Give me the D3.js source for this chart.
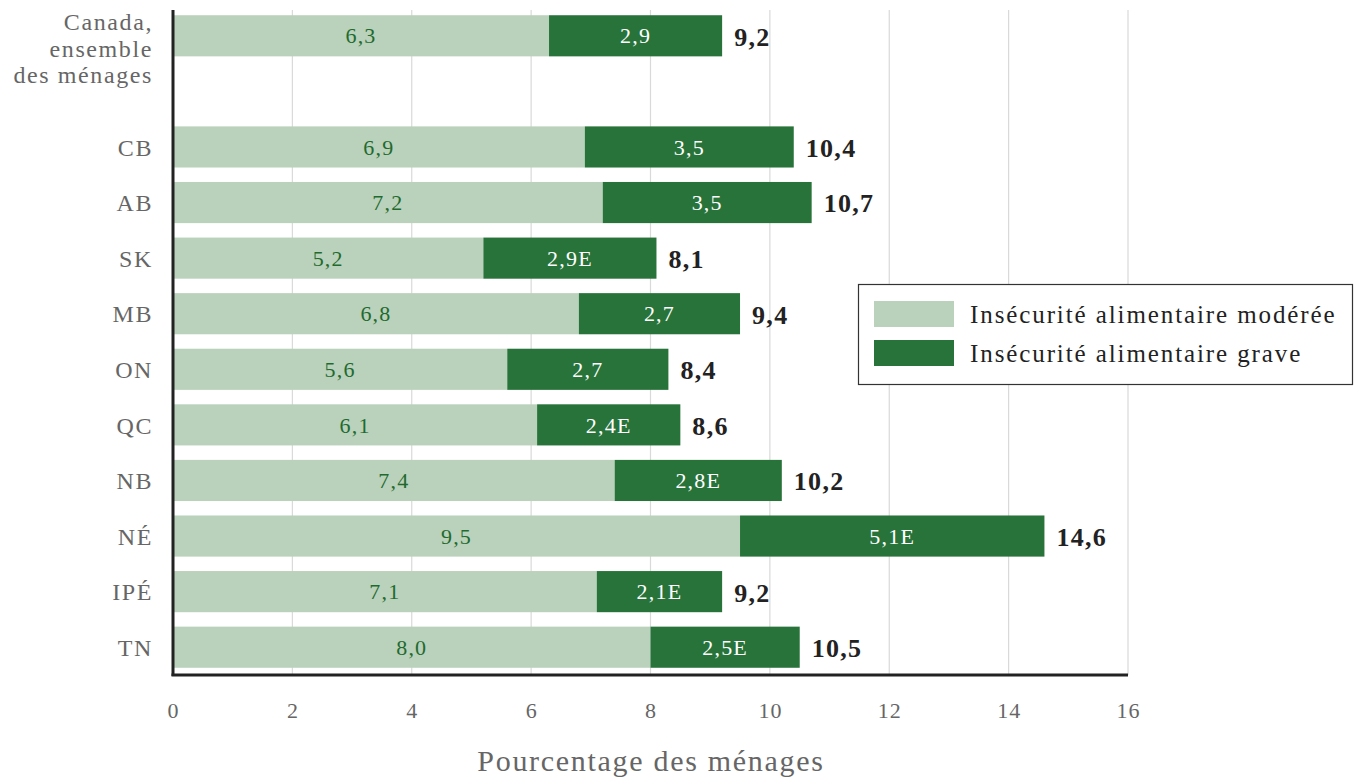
<!DOCTYPE html>
<html><head><meta charset="utf-8">
<script src="https://cdn.jsdelivr.net/npm/d3@7"></script>
<style>body{margin:0;background:#fff}svg{display:block}</style>
</head><body>
<svg id="c" width="1359" height="779"></svg>
<script>
const categories = ["Canada", "_gap", "CB", "AB", "SK", "MB", "ON", "QC", "NB", "NÉ", "IPÉ", "TN"];
const moderate = [6.3, null, 6.9, 7.2, 5.2, 6.8, 5.6, 6.1, 7.4, 9.5, 7.1, 8.0];
const severe = [2.9, null, 3.5, 3.5, 2.9, 2.7, 2.7, 2.4, 2.8, 5.1, 2.1, 2.5];
const severeLabels = ["2,9", "", "3,5", "3,5", "2,9E", "2,7", "2,7", "2,4E", "2,8E", "5,1E", "2,1E", "2,5E"];
const totals = [9.2, null, 10.4, 10.7, 8.1, 9.4, 8.4, 8.6, 10.2, 14.6, 9.2, 10.5];
const xTicks = [0, 2, 4, 6, 8, 10, 12, 14, 16];
const seriesNames = ["Insécurité alimentaire modérée", "Insécurité alimentaire grave"];
const canadaLabel = ["Canada,", "ensemble", "des ménages"];

const font = "'Liberation Serif', 'DejaVu Serif', serif";
const cLight = "#bad1bb", cDark = "#28733a";
const fmt = v => v.toFixed(1).replace(".", ",");

const svg = d3.select("#c");
const x = d3.scaleLinear().domain([0, 16]).range([173, 1128]);
const y = d3.scaleBand().domain(categories).range([8, 675]).paddingInner(0.26).paddingOuter(0.13);

// grid
svg.append("g").selectAll("line").data(xTicks.slice(1)).join("line")
  .attr("x1", d => x(d)).attr("x2", d => x(d)).attr("y1", 10).attr("y2", 675)
  .attr("stroke", "#d9d9d9").attr("stroke-width", 1.2);

const rows = categories.map((c, i) => ({c, m: moderate[i], s: severe[i], sl: severeLabels[i], t: totals[i]})).filter(d => d.m != null);

const g = svg.append("g");
g.selectAll("rect.m").data(rows).join("rect")
  .attr("x", x(0)).attr("y", d => y(d.c)).attr("height", y.bandwidth())
  .attr("width", d => x(d.m) - x(0)).attr("fill", cLight);
g.selectAll("rect.s").data(rows).join("rect")
  .attr("x", d => x(d.m)).attr("y", d => y(d.c)).attr("height", y.bandwidth())
  .attr("width", d => x(d.m + d.s) - x(d.m)).attr("fill", cDark);

g.selectAll("text.m").data(rows).join("text")
  .attr("x", d => (x(0) + x(d.m)) / 2).attr("y", d => y(d.c) + y.bandwidth() / 2)
  .attr("dy", "0.35em").attr("text-anchor", "middle")
  .attr("font-family", font).attr("font-size", 22).attr("letter-spacing", 1.2).attr("fill", "#1f6b2f")
  .text(d => fmt(d.m));
g.selectAll("text.s").data(rows).join("text")
  .attr("x", d => (x(d.m) + x(d.m + d.s)) / 2).attr("y", d => y(d.c) + y.bandwidth() / 2)
  .attr("dy", "0.35em").attr("text-anchor", "middle")
  .attr("font-family", font).attr("font-size", 22).attr("letter-spacing", 1.2).attr("fill", "#ffffff")
  .text(d => d.sl);
g.selectAll("text.t").data(rows).join("text")
  .attr("x", d => x(d.m + d.s) + 12).attr("y", d => y(d.c) + y.bandwidth() / 2)
  .attr("dy", "0.38em").attr("text-anchor", "start")
  .attr("font-family", font).attr("font-size", 26).attr("letter-spacing", 1.3).attr("font-weight", "bold").attr("fill", "#222")
  .text(d => fmt(d.t));

// y labels
const yl = svg.append("g");
yl.selectAll("text").data(rows.filter(d => d.c !== "Canada")).join("text")
  .attr("x", 153).attr("y", d => y(d.c) + y.bandwidth() / 2).attr("dy", "0.36em")
  .attr("text-anchor", "end").attr("font-family", font).attr("font-size", 24).attr("letter-spacing", 1.6).attr("fill", "#666")
  .text(d => d.c);
yl.append("text").attr("text-anchor", "end").attr("font-family", font).attr("font-size", 24).attr("letter-spacing", 1.6).attr("fill", "#666")
  .selectAll("tspan").data(canadaLabel).join("tspan")
  .attr("x", 153).attr("y", (d, i) => 30 + i * 26.5).text(d => d);

// axes lines
svg.append("line").attr("x1", x(0)).attr("x2", x(0)).attr("y1", 10).attr("y2", 676)
  .attr("stroke", "#222").attr("stroke-width", 3);
svg.append("line").attr("x1", x(0) - 1.5).attr("x2", x(16)).attr("y1", 675).attr("y2", 675)
  .attr("stroke", "#222").attr("stroke-width", 3);

// x axis ticks
const xa = svg.append("g").attr("transform", "translate(0,676)")
  .call(d3.axisBottom(x).tickValues(xTicks).tickSize(0).tickPadding(26).tickFormat(d => d));
xa.select(".domain").remove();
xa.selectAll("text").attr("font-family", font).attr("font-size", 22).attr("letter-spacing", 1).attr("fill", "#666");

svg.append("text").attr("x", 651).attr("y", 771).attr("text-anchor", "middle")
  .attr("font-family", font).attr("font-size", 30).attr("fill", "#666").attr("letter-spacing", 1.7)
  .text("Pourcentage des ménages");

// legend
const lg = svg.append("g");
lg.append("rect").attr("x", 858.5).attr("y", 284.5).attr("width", 494).attr("height", 100)
  .attr("fill", "#fff").attr("stroke", "#333").attr("stroke-width", 1.2);
lg.selectAll("rect.sw").data(seriesNames).join("rect")
  .attr("x", 874).attr("y", (d, i) => 301 + i * 39).attr("width", 80).attr("height", 26)
  .attr("fill", (d, i) => i === 0 ? cLight : cDark);
lg.selectAll("text").data(seriesNames).join("text")
  .attr("x", 970).attr("y", (d, i) => 314 + i * 39).attr("dy", "0.35em")
  .attr("font-family", font).attr("font-size", 25).attr("letter-spacing", 1.9).attr("fill", "#222")
  .text(d => d);
</script>
</body></html>
